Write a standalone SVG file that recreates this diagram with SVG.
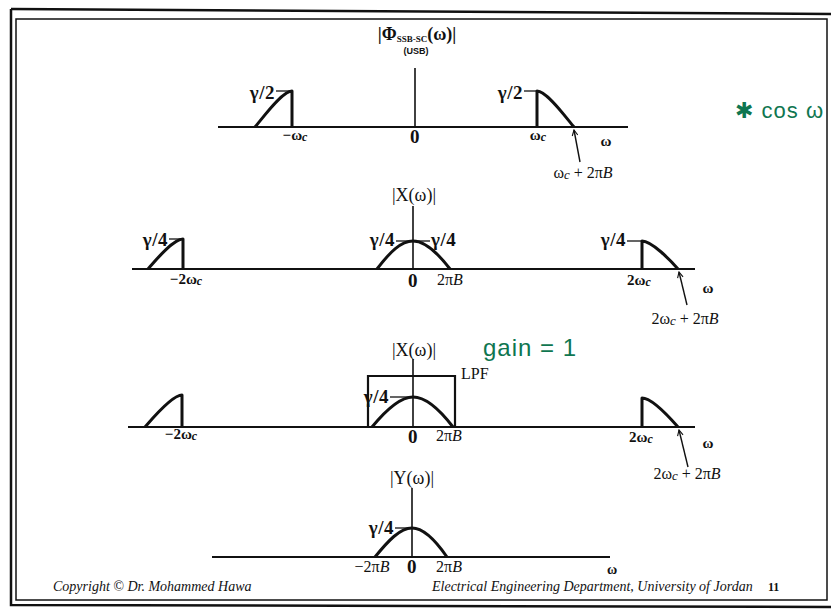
<svg xmlns="http://www.w3.org/2000/svg" width="831" height="613" viewBox="0 0 831 613">
<style>
text{font-family:"Liberation Serif","DejaVu Serif",serif;fill:#111}
.lab{font-size:19px;font-weight:bold;letter-spacing:0.5px}
.sm{font-size:15px;font-weight:bold}
.mid{text-anchor:middle}
.end{text-anchor:end}
.ax{stroke:#111;stroke-width:2;fill:none}
.vx{stroke:#111;stroke-width:1.6;fill:none}
.sp{stroke:#111;stroke-width:3;fill:none;stroke-linejoin:round}
.tk{stroke:#111;stroke-width:1.3;fill:none}
.ar{stroke:#111;stroke-width:1.4;fill:none;marker-end:url(#ah)}
.grn{font-family:"Liberation Sans","DejaVu Sans",sans-serif;fill:#0f7650}
.ft{font-style:italic;font-size:14px}
.big{font-size:18px}
.pb{font-size:16px}
</style>
<defs>
<marker id="ah" viewBox="0 0 10 10" refX="9" refY="5" markerWidth="7" markerHeight="7" orient="auto" markerUnits="userSpaceOnUse">
<path d="M1,1 L9,5 L1,9" fill="none" stroke="#111" stroke-width="1.6"/>
</marker>
<clipPath id="clipR"><rect x="0" y="0" width="826" height="613"/></clipPath>
</defs>
<rect width="831" height="613" fill="#fff"/>
<g id="frame" fill="none" stroke="#111">
<path d="M11,9 L831,14" stroke-width="2.5"/>
<rect x="16" y="19" width="811" height="581" stroke-width="1.5"/>
<path d="M11,9 L11,605 L831,607" stroke-width="2.5"/>
</g>

<g id="panel1">
<text class="mid" x="417" y="40" style="font-size:18px;font-weight:bold">|Φ<tspan style="font-size:9px" dy="2">SSB-SC</tspan><tspan dy="-2">(ω)|</tspan></text>
<text class="mid" x="416" y="54" style="font-family:'Liberation Sans',sans-serif;font-size:9px;font-weight:bold">(USB)</text>
<line class="ax" x1="218" y1="127" x2="628" y2="127"/>
<line class="vx" x1="415" y1="68" x2="415" y2="127"/>
<path class="sp" d="M255,127 C262,119 282,91 292,91 L292,127"/>
<path class="sp" d="M537,127 L537,91 C547,91 567,119 574,127"/>
<text class="lab end" x="275" y="99">γ/2</text>
<line class="tk" x1="276" y1="91" x2="291" y2="91"/>
<text class="lab end" x="523" y="99">γ/2</text>
<line class="tk" x1="524" y1="91" x2="537" y2="91"/>
<text class="sm mid" x="295" y="140">−ω<tspan font-style="italic" font-size="12" dy="1">c</tspan></text>
<text class="lab mid" x="415" y="143">0</text>
<text class="sm mid" x="538" y="140">ω<tspan font-style="italic" font-size="12" dy="1">c</tspan></text>
<text class="sm mid" x="606" y="146">ω</text>
<path class="ar" d="M580,162 L574,130"/>
<text class="mid" x="583" y="178" style="font-size:16px">ω<tspan font-style="italic" font-size="13" dy="1">c</tspan><tspan dy="-1"> + 2π</tspan><tspan font-style="italic">B</tspan></text>
</g>

<g id="panel2">
<text class="mid big" x="414" y="201">|X(ω)|</text>
<line class="ax" x1="132" y1="269" x2="695" y2="269"/>
<line class="vx" x1="413" y1="206" x2="413" y2="269"/>
<path class="sp" d="M148,269 C155,261 173,239 183,239 L183,269"/>
<path class="sp" d="M377,269 C390,252 401,241 413,241 C425,241 437,252 450,269"/>
<path class="sp" d="M642,269 L642,241 C652,241 671,261 678,269"/>
<text class="lab end" x="168" y="246">γ/4</text>
<line class="tk" x1="169" y1="239" x2="182" y2="239"/>
<text class="lab end" x="395" y="246">γ/4</text>
<line class="tk" x1="396" y1="241" x2="411" y2="241"/>
<line class="tk" x1="415" y1="241" x2="430" y2="241"/>
<text class="lab" x="431" y="246">γ/4</text>
<text class="lab end" x="626" y="246">γ/4</text>
<line class="tk" x1="627" y1="241" x2="642" y2="241"/>
<text class="sm mid" x="186" y="284">−2ω<tspan font-style="italic" font-size="12" dy="1">c</tspan></text>
<text class="lab mid" x="413" y="287">0</text>
<text class="pb" x="437" y="285">2π<tspan font-style="italic">B</tspan></text>
<text class="sm" x="627" y="285">2ω<tspan font-style="italic" font-size="12" dy="1">c</tspan></text>
<text class="sm mid" x="708" y="293">ω</text>
<path class="ar" d="M687,305 L679,272"/>
<text class="mid pb" x="685" y="324">2ω<tspan font-style="italic" font-size="13" dy="1">c</tspan><tspan dy="-1"> + 2π</tspan><tspan font-style="italic">B</tspan></text>
</g>

<g id="panel3">
<text class="mid big" x="414" y="356">|X(ω)|</text>
<line class="ax" x1="128" y1="427" x2="695" y2="427"/>
<line class="vx" x1="413" y1="359" x2="413" y2="427"/>
<path class="ax" d="M368,427 L368,376 L455,376 L455,427" style="stroke-width:2.2"/>
<text x="461" y="379" style="font-size:16px">LPF</text>
<path class="sp" d="M145,427 C152,419 172,395 182,395 L182,427"/>
<path class="sp" d="M372,427 C386,410 400,397 413,397 C426,397 440,410 453,427"/>
<path class="sp" d="M642,427 L642,398 C652,398 671,419 678,427"/>
<text class="lab end" x="389" y="403">γ/4</text>
<line class="tk" x1="390" y1="397" x2="410" y2="397"/>
<text class="sm mid" x="181" y="439">−2ω<tspan font-style="italic" font-size="12" dy="1">c</tspan></text>
<text class="lab mid" x="413" y="443">0</text>
<text class="pb" x="436" y="441">2π<tspan font-style="italic">B</tspan></text>
<text class="sm" x="629" y="442">2ω<tspan font-style="italic" font-size="12" dy="1">c</tspan></text>
<text class="sm mid" x="708" y="448">ω</text>
<path class="ar" d="M688,467 L679,430"/>
<text class="mid pb" x="687" y="479">2ω<tspan font-style="italic" font-size="13" dy="1">c</tspan><tspan dy="-1"> + 2π</tspan><tspan font-style="italic">B</tspan></text>
<text class="grn" x="483" y="356" style="font-size:24px;letter-spacing:1px">gain = 1</text>
</g>

<g id="panel4">
<text class="mid big" x="412" y="484">|Y(ω)|</text>
<line class="ax" x1="212" y1="557" x2="610" y2="557"/>
<line class="vx" x1="412" y1="488" x2="412" y2="557"/>
<path class="sp" d="M375,557 C388,541 400,528 412,528 C424,528 436,541 447,557"/>
<text class="lab end" x="394" y="534">γ/4</text>
<line class="tk" x1="395" y1="528" x2="410" y2="528"/>
<text class="mid pb" x="372" y="572">−2π<tspan font-style="italic">B</tspan></text>
<text class="lab mid" x="412" y="573">0</text>
<text class="mid pb" x="449" y="572">2π<tspan font-style="italic">B</tspan></text>
<text class="mid" x="612" y="574" style="font-size:14px;font-weight:bold">ω</text>
</g>

<g id="notes">
<text class="grn" x="735" y="118" clip-path="url(#clipR)" style="font-size:22px;letter-spacing:1px">✱ cos ω</text>
</g>

<g id="footer">
<text class="ft" x="53" y="591">Copyright © Dr. Mohammed Hawa</text>
<text class="ft" x="432" y="591">Electrical Engineering Department, University of Jordan</text>
<text x="768" y="591" style="font-size:12px;font-weight:bold">11</text>
</g>
</svg>
